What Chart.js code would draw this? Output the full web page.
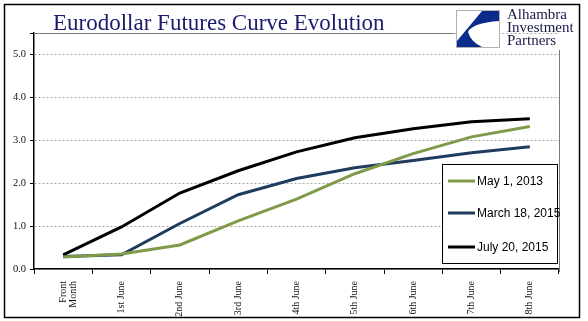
<!DOCTYPE html>
<html>
<head>
<meta charset="utf-8">
<script src="https://cdn.jsdelivr.net/npm/chart.js@4/dist/chart.umd.min.js"></script>
<style>
  html, body { margin: 0; padding: 0; background: #fff; }
  #wrap { width: 588px; height: 321px; position: relative; }
</style>
</head>
<body>
<div id="wrap"><canvas id="chart" width="588" height="321"></canvas></div>
<script>
// Chart data
const categories = [['Front', 'Month'], '1st June', '2nd June', '3rd June', '4th June',
    '5th June', '6th June', '7th June', '8th June'];
const may2013 = [0.28, 0.35, 0.56, 1.12, 1.63, 2.22, 2.69, 3.08, 3.32];
const mar2015 = [0.29, 0.33, 1.06, 1.73, 2.11, 2.36, 2.53, 2.71, 2.85];
const jul2015 = [0.33, 0.98, 1.77, 2.29, 2.73, 3.06, 3.27, 3.43, 3.50];
const seriesNames = ['May 1, 2013', 'March 18, 2015', 'July 20, 2015'];
const seriesColors = ['#7f9a48', '#1f3b5e', '#000000'];

const SERIF = '"Liberation Serif", "Times New Roman", serif';
const SANS = '"Liberation Sans", Arial, sans-serif';

// Frame, title, logo, plot border and the boxed legend
const decorPlugin = {
    id: 'decor',
    beforeDraw(chart) {
        const ctx = chart.ctx;
        ctx.save();
        ctx.fillStyle = '#fff';
        ctx.fillRect(0, 0, chart.width, chart.height);
        ctx.restore();
    },
    beforeDatasetsDraw(chart) {
        const ctx = chart.ctx;
        const a = chart.chartArea;
        ctx.save();
        ctx.strokeStyle = '#7a7a7a';
        ctx.lineWidth = 1;
        ctx.beginPath();
        ctx.moveTo(a.left, a.top + 0.5);
        ctx.lineTo(454, a.top + 0.5);
        ctx.moveTo(a.right + 0.5, 50);
        ctx.lineTo(a.right + 0.5, a.bottom + 3);
        ctx.stroke();
        ctx.restore();
    },
    afterDraw(chart) {
        const ctx = chart.ctx;
        ctx.save();

        // outer frame
        ctx.strokeStyle = '#000';
        ctx.lineWidth = 1.5;
        ctx.strokeRect(4.5, 4.5, 575, 313);

        // title
        ctx.fillStyle = '#1a1a6e';
        ctx.font = '23px ' + SERIF;
        ctx.textBaseline = 'alphabetic';
        ctx.textAlign = 'left';
        ctx.fillText('Eurodollar Futures Curve Evolution', 53, 30);

        // logo square
        ctx.fillStyle = '#fff';
        ctx.fillRect(456, 10, 43, 37);
        ctx.strokeStyle = '#b0b0b0';
        ctx.lineWidth = 1;
        ctx.strokeRect(456.5, 10.5, 43, 37);
        ctx.fillStyle = '#0a2a8c';
        ctx.beginPath();
        ctx.moveTo(482, 11);
        ctx.lineTo(499, 11);
        ctx.lineTo(499, 21);
        ctx.quadraticCurveTo(472, 23, 468, 32);
        ctx.quadraticCurveTo(471, 42, 482, 47);
        ctx.lineTo(457, 47);
        ctx.lineTo(457, 41);
        ctx.closePath();
        ctx.fill();

        // logo text
        ctx.fillStyle = '#1a1a4a';
        ctx.font = '15px ' + SERIF;
        ctx.fillText('Alhambra', 507, 19);
        ctx.fillText('Investment', 507, 32);
        ctx.fillText('Partners', 507, 45);

        // legend box
        const box = { x: 442, y: 164, w: 115, h: 99 };
        ctx.fillStyle = '#fff';
        ctx.fillRect(box.x, box.y, box.w, box.h);
        ctx.strokeStyle = '#000';
        ctx.lineWidth = 1;
        ctx.strokeRect(box.x + 0.5, box.y + 0.5, box.w, box.h);
        const rowY = [181, 213, 247];
        ctx.font = '12px ' + SANS;
        ctx.textBaseline = 'middle';
        chart.data.datasets.forEach((ds, i) => {
            ctx.strokeStyle = ds.borderColor;
            ctx.lineWidth = 3;
            ctx.beginPath();
            ctx.moveTo(448, rowY[i]);
            ctx.lineTo(475, rowY[i]);
            ctx.stroke();
            ctx.fillStyle = '#000';
            ctx.fillText(ds.label, 477, rowY[i] + 1);
        });
        ctx.restore();
    }
};

const ctx = document.getElementById('chart').getContext('2d');
const chart = new Chart(ctx, {
    type: 'line',
    data: {
        labels: categories,
        datasets: [may2013, mar2015, jul2015].map((values, i) => ({
            label: seriesNames[i],
            data: values,
            borderColor: seriesColors[i],
            backgroundColor: seriesColors[i],
            borderWidth: 3,
            pointRadius: 0,
            tension: 0,
            fill: false
        }))
    },
    options: {
        responsive: false,
        animation: false,
        layout: { padding: { left: 0, right: 29, top: 33, bottom: 0 } },
        plugins: {
            legend: { display: false },
            title: { display: false },
            tooltip: { enabled: false }
        },
        scales: {
            x: {
                offset: true,
                grid: {
                    offset: true,
                    drawOnChartArea: false,
                    tickLength: 5,
                    tickColor: '#000',
                    lineWidth: 1
                },
                border: { color: '#000', width: 1.5 },
                ticks: {
                    color: '#111',
                    font: { family: SERIF, size: 10, lineHeight: 1.0 },
                    minRotation: 90,
                    maxRotation: 90,
                    autoSkip: false,
                    padding: 7
                },
                afterFit(scale) { scale.height = 52; }
            },
            y: {
                min: 0,
                max: 5.5,
                grid: {
                    color: '#a8a8a8',
                    lineWidth: 1,
                    tickLength: 4,
                    tickColor: '#000',
                    tickBorderDash: []
                },
                border: { color: '#000', width: 1.5, dash: [2, 2] },
                ticks: {
                    stepSize: 1,
                    color: '#111',
                    padding: 4,
                    font: { family: SERIF, size: 10.5 },
                    callback: v => (v % 1 === 0 ? v.toFixed(1) : '')
                },
                afterFit(scale) { scale.width = 34; }
            }
        }
    },
    plugins: [decorPlugin]
});
</script>
</body>
</html>
